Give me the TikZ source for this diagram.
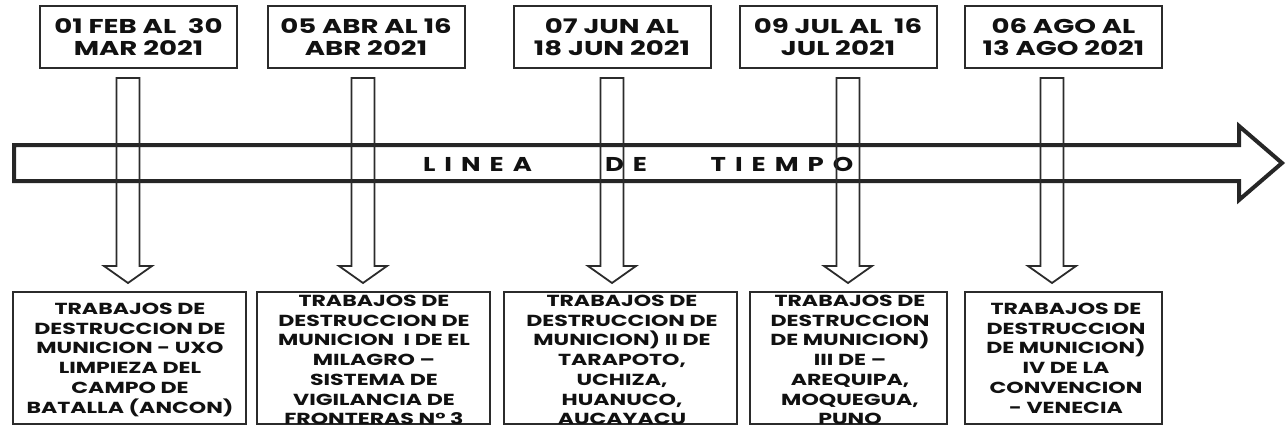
\documentclass[tikz,border=0pt]{standalone}
\usepackage{fontspec}
\setmainfont{Poppins}[FakeStretch=1.38]
\newfontfamily\spacedfont{Poppins}[FakeStretch=1.3, LetterSpace=45]
\usetikzlibrary{calc}
\definecolor{boxgray}{HTML}{2B2B2B}
\definecolor{arrowgray}{HTML}{262626}
\definecolor{textblack}{HTML}{111111}
\begin{document}
\begin{tikzpicture}[x=1pt,y=-1pt,
 datebox/.style={draw=boxgray, line width=2pt, minimum width=197pt, minimum height=62pt, inner sep=0pt,
   font=\bfseries\fontsize{20}{22}\selectfont, align=center, text=textblack},
 workbox/.style={draw=boxgray, line width=2pt, minimum height=132pt, inner sep=0pt},
 worktxt/.style={font=\bfseries\fontsize{16}{19.7}\selectfont, align=center, text=textblack, inner sep=0pt, anchor=north},
 varrow/.style={draw=boxgray, line width=1.8pt, line join=miter},
 mainarrow/.style={draw=arrowgray, line width=4pt, line join=miter},
 lbl/.style={font=\spacedfont\bfseries\fontsize{20}{22}\selectfont, text=textblack, inner sep=0pt}
]
\useasboundingbox (0,0) rectangle (1286,439);

% main timeline arrow
\draw[mainarrow] (14,145) -- (1239,145) -- (1239,126) -- (1282,163) -- (1239,200) -- (1239,181) -- (14,181) -- cycle;
\node[lbl] (l1) at (477.5,164) {LINEA};
\node[lbl] (l2) at (626,164) {DE};
\node[lbl] (l3) at (782,164) {TIEMPO};

% top date boxes
\node[datebox] (t1) at (138.5,37) {01 FEB AL\ \ 30\\MAR 2021};
\node[datebox] (t2) at (366,37) {05 ABR AL 16\\ABR 2021};
\node[datebox] (t3) at (612,37) {07 JUN AL\\18 JUN 2021};
\node[datebox] (t4) at (838,37) {09 JUL AL\ \ 16\\JUL 2021};
\node[datebox] (t5) at (1063.5,37) {06 AGO AL\\13 AGO 2021};

% bottom boxes
\node[workbox, minimum width=233pt] (b1) at (129.5,358) {};
\node[workbox, minimum width=233pt] (b2) at (373.5,358) {};
\node[workbox, minimum width=233pt] (b3) at (620.5,358) {};
\node[workbox, minimum width=197pt] (b4) at (848.5,358) {};
\node[workbox, minimum width=197pt] (b5) at (1063.5,358) {};

\node[worktxt] (b1t) at (130,303) {TRABAJOS DE\\DESTRUCCION DE\\MUNICION - UXO\\LIMPIEZA DEL\\CAMPO DE\\BATALLA (ANCON)};
\node[worktxt] (b2t) at (374,295) {TRABAJOS DE\\DESTRUCCION DE\\MUNICION\ \ I DE EL\\MILAGRO --\\SISTEMA DE\\VIGILANCIA DE\\FRONTERAS N° 3};
\node[worktxt] (b3t) at (622,295) {TRABAJOS DE\\DESTRUCCION DE\\MUNICION) II DE\\TARAPOTO,\\UCHIZA,\\HUANUCO,\\AUCAYACU};
\node[worktxt] (b4t) at (850,295) {TRABAJOS DE\\DESTRUCCION\\DE MUNICION)\\III DE --\\AREQUIPA,\\MOQUEGUA,\\PUNO};
\node[worktxt] (b5t) at (1066,303) {TRABAJOS DE\\DESTRUCCION\\DE MUNICION)\\IV DE LA\\CONVENCION\\- VENECIA};

% vertical block arrows from date boxes to work boxes
\foreach \n/\x in {1/128,2/363,3/612,4/848,5/1052}{
  \coordinate (v\n) at (\x,78);
  \draw[varrow] (v\n) ++(-11.5,0) -- ++(0,188) -- ++(-12.5,0) -- ++(24,17) -- ++(24,-17) -- ++(-12.5,0) -- ++(0,-188) -- cycle;
}
\end{tikzpicture}
\end{document}
